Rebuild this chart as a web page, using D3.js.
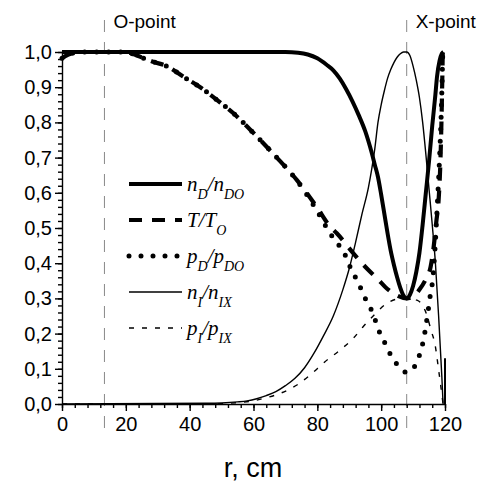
<!DOCTYPE html>
<html>
<head>
<meta charset="utf-8">
<script src="https://cdn.jsdelivr.net/npm/d3@7"></script>
<style>
  body { margin: 0; background: #fff; }
  svg { display: block; }
  .ax text { font-family: "Liberation Sans", Arial, sans-serif; font-size: 20px; fill: #000; }
  .ax path, .ax line { stroke: #000; stroke-width: 1.4px; }
  .leg, .leg tspan { font-family: "Liberation Serif", "Times New Roman", serif; font-style: italic; }
</style>
</head>
<body>
<div id="chart"></div>
<script>
// profiles, [r (cm), value]
var nD = [[0,1],[70,1],[74,0.998],[77,0.993],[80,0.982],[83,0.963],[85,0.948],[87,0.925],[89,0.895],
  [91,0.86],[93,0.82],[95,0.775],[97,0.715],[98,0.68],[99,0.645],[100,0.595],[101,0.54],[102,0.485],
  [103,0.435],[104,0.395],[105,0.36],[106,0.33],[107,0.308],[108,0.3],[109,0.31],[110,0.335],
  [111,0.375],[112,0.43],[113,0.51],[114,0.6],[115,0.69],[116,0.79],[117,0.88],[117.5,0.93],
  [118.3,0.975],[119,0.995],[119.5,1]];

var T = [[0,0.982],[2,0.993],[4,0.998],[6,1],[20,1],[23.4,0.99],[28.6,0.972],[32.8,0.96],[38,0.93],
  [43.3,0.9],[48.5,0.864],[53.7,0.826],[58.9,0.78],[64.2,0.73],[67.3,0.7],[73.6,0.636],[79.8,0.56],
  [84,0.504],[86.1,0.485],[91.3,0.428],[95,0.39],[98.7,0.357],[102.3,0.324],[105,0.308],[108,0.3],
  [110,0.305],[112,0.325],[114,0.355],[115.5,0.39],[116.5,0.45],[117.3,0.52],[118,0.58],[118.6,0.7],
  [119,0.85],[119.3,1]];

var pD = [[0,0.982],[2,0.993],[4,0.998],[6,1],[20,1],[23.4,0.99],[28.6,0.972],[32.8,0.96],[38,0.93],
  [43.3,0.9],[48.5,0.864],[53.7,0.826],[58.9,0.78],[64.2,0.73],[67.3,0.7],[73.6,0.635],[79.8,0.55],
  [84,0.485],[86,0.46],[88.2,0.433],[90.5,0.385],[92.9,0.343],[95,0.3],[97.6,0.253],[99.2,0.21],
  [100.7,0.182],[103,0.139],[105,0.112],[106.3,0.099],[108,0.09],[109.6,0.097],[111,0.115],
  [112,0.139],[113.3,0.184],[114.1,0.227],[114.8,0.27],[115.4,0.31],[116.2,0.357],[116.9,0.447],
  [117.5,0.55],[118.3,0.7],[118.9,0.85],[119.3,1]];

var nI = [[0,0],[45,0.002],[50,0.003],[55,0.006],[58,0.009],[61,0.015],[64,0.024],[67,0.035],[70,0.052],
  [73,0.073],[76,0.103],[79,0.145],[82,0.195],[85,0.25],[88,0.325],[90,0.385],[92,0.46],[94,0.54],
  [96,0.615],[97,0.665],[98,0.725],[99,0.8],[100,0.85],[101,0.89],[102,0.925],[103,0.95],[104,0.97],
  [105,0.985],[106,0.995],[107,1],[108,1],[109,0.99],[110,0.96],[111,0.92],[112,0.87],[113,0.8],
  [114,0.71],[115,0.61],[116,0.51],[117,0.4],[118,0.25],[119,0.08],[119.4,0]];

var pI = [[0,0],[45,0],[55,0.004],[60,0.009],[63.1,0.016],[68.3,0.03],[73.6,0.054],[77.7,0.082],
  [82.4,0.12],[87.1,0.153],[91.3,0.187],[94.4,0.22],[98,0.255],[101.8,0.286],[105,0.298],[108,0.3],
  [111.2,0.295],[113,0.28],[114.3,0.253],[115.6,0.21],[116.9,0.168],[118,0.097],[119.4,0]];

var edge = [[120,0],[120,0.13]];

var marks = [{r:13.3, label:"O-point"}, {r:108, label:"X-point"}];
var xTicks = [0,20,40,60,80,100,120];
var yTicks = [0,0.1,0.2,0.3,0.4,0.5,0.6,0.7,0.8,0.9,1.0];

// legend: [letter, subscript] before and after the slash
var legendRows = [
  {data:nD, parts:[["n","D"],["n","DO"]]},
  {data:T,  parts:[["T",""],["T","O"]]},
  {data:pD, parts:[["p","D"],["p","DO"]]},
  {data:nI, parts:[["n","I"],["n","IX"]]},
  {data:pI, parts:[["p","I"],["p","IX"]]}
];

var W = 483, H = 484;
var x = d3.scaleLinear().domain([0,120]).range([62,445]);
var y = d3.scaleLinear().domain([0,1]).range([404,52]);

var svg = d3.select("#chart").append("svg").attr("width",W).attr("height",H);

var styles = new Map([
  [nD, {w:4, dash:null, cap:"butt"}],
  [T,  {w:4.2, dash:"13,10", cap:"butt"}],
  [pD, {w:5, dash:"0,12", cap:"round"}],
  [nI, {w:1.4, dash:null, cap:"butt"}],
  [pI, {w:1.4, dash:"5,8", cap:"butt"}],
  [edge, {w:2, dash:null, cap:"butt"}]
]);

// reference lines
svg.selectAll("line.ref").data(marks).enter().append("line")
  .attr("class","ref")
  .attr("x1",function(d){return x(d.r);}).attr("x2",function(d){return x(d.r);})
  .attr("y1",20).attr("y2",438)
  .attr("stroke","#888").attr("stroke-width",1).attr("stroke-dasharray","12,10");

svg.selectAll("text.ref").data(marks).enter().append("text")
  .attr("class","ref")
  .attr("x",function(d){return x(d.r)+9;}).attr("y",28)
  .style("font-family","'Liberation Sans', Arial, sans-serif").style("font-size","19px")
  .text(function(d){return d.label;});

// axes
var fmt = function(d){ return d3.format(".1f")(d).replace(".",","); };

svg.append("g").attr("class","ax").attr("transform","translate(0,404)")
  .call(d3.axisBottom(x).tickValues(d3.range(0,121,4)).tickSize(4).tickFormat(""))
  .call(function(g){ g.select(".domain").remove(); g.selectAll("text").remove(); });
svg.append("g").attr("class","ax").attr("transform","translate(0,404)")
  .call(d3.axisBottom(x).tickValues(xTicks).tickSize(7).tickSizeOuter(0).tickPadding(6));

svg.append("g").attr("class","ax").attr("transform","translate(62,0)")
  .call(d3.axisLeft(y).tickValues(d3.range(0,51).map(function(i){return i/50;})).tickSize(4).tickFormat(""))
  .call(function(g){ g.select(".domain").remove(); g.selectAll("text").remove(); });
svg.append("g").attr("class","ax").attr("transform","translate(62,0)")
  .call(d3.axisLeft(y).tickValues(yTicks).tickSize(7).tickSizeOuter(0).tickPadding(3).tickFormat(fmt));

// curves
var line = d3.line().x(function(d){return x(d[0]);}).y(function(d){return y(d[1]);})
  .curve(d3.curveMonotoneX);
var straight = d3.line().x(function(d){return x(d[0]);}).y(function(d){return y(d[1]);});

[pI, nI, T, pD, nD, edge].forEach(function(s){
  var st = styles.get(s);
  svg.append("path").datum(s)
    .attr("d", s === edge ? straight : line)
    .attr("fill","none").attr("stroke","#000")
    .attr("stroke-width",st.w)
    .attr("stroke-dasharray",st.dash)
    .attr("stroke-linecap",st.cap)
    .attr("stroke-linejoin","round");
});

// legend
var lg = svg.append("g");
legendRows.forEach(function(row,i){
  var ly = 184 + i*36;
  var st = styles.get(row.data);
  lg.append("line").attr("x1",129).attr("x2",182).attr("y1",ly).attr("y2",ly)
    .attr("stroke","#000").attr("stroke-width",st.w)
    .attr("stroke-dasharray",st.dash).attr("stroke-linecap",st.cap);
  var t = lg.append("text").attr("class","leg").attr("x",187).attr("y",ly+7)
    .style("font-size","21px");
  var shifted = false;
  row.parts.forEach(function(p,j){
    if(j==1){
      t.append("tspan").attr("dy", shifted ? -8 : 0).text("/");
      shifted = false;
    }
    t.append("tspan").text(p[0]);
    if(p[1]){
      t.append("tspan").style("font-size","14px").attr("dy",8).text(p[1]);
      shifted = true;
    }
  });
});

// axis title
svg.append("text").attr("x",253).attr("y",477).attr("text-anchor","middle")
  .style("font-family","'Liberation Sans', Arial, sans-serif").style("font-size","27px")
  .text("r, cm");
</script>
</body>
</html>
